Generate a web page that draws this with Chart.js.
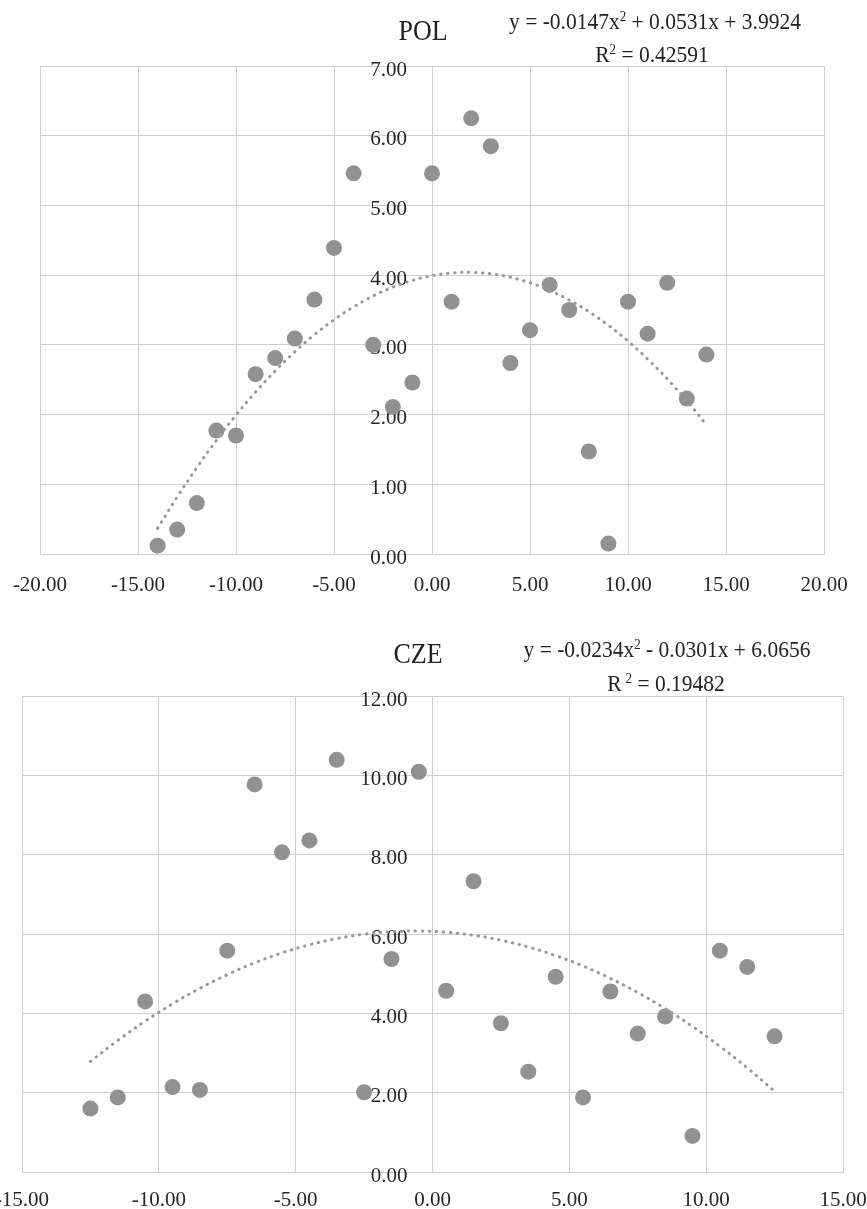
<!DOCTYPE html>
<html lang="en">
<head>
<meta charset="UTF-8">
<title>POL / CZE scatter</title>
<script src="https://cdn.jsdelivr.net/npm/chart.js"></script>
<style>
    html, body { margin: 0; padding: 0; background: #fff; overflow: hidden; }
    body { width: 867px; height: 1209px; position: relative; font-family: "Liberation Serif", "Times New Roman", serif; color: #222; }
    .box { position: absolute; }
    .lbl { position: absolute; transform: translate(-50%, -50%) scaleY(1.1); white-space: nowrap; line-height: 1; }
    .title { font-size: 26px; }
    .eq { font-size: 21.5px; }
    .eq sup { font-size: 13px; vertical-align: 7px; line-height: 0; }
</style>
</head>
<body>
    <div class="box" style="left:0; top:0; width:867px; height:610px;"><canvas id="polChart"></canvas></div>
    <div class="box" style="left:-20px; top:610px; width:907px; height:599px;"><canvas id="czeChart"></canvas></div>

    <div class="lbl title" style="left:423px; top:31px;">POL</div>
    <div class="lbl eq" style="left:655px; top:22px;">y = -0.0147x<sup>2</sup> + 0.0531x + 3.9924</div>
    <div class="lbl eq" style="left:652px; top:55px;">R<sup>2</sup> = 0.42591</div>

    <div class="lbl title" style="left:418px; top:654px;">CZE</div>
    <div class="lbl eq" style="left:667px; top:650px;">y = -0.0234x<sup>2</sup> - 0.0301x + 6.0656</div>
    <div class="lbl eq" style="left:666px; top:684px;">R<sup style="margin-left:4px">2</sup> = 0.19482</div>

<script>
// POL series
const polX = [-14, -13, -12, -11, -10, -9, -8, -7, -6, -5, -4, -3, -2, -1, 0,
              1, 2, 3, 4, 5, 6, 7, 8, 9, 10, 11, 12, 13, 14];
const polY = [0.12, 0.35, 0.73, 1.77, 1.70, 2.58, 2.81, 3.09, 3.65, 4.39, 5.46, 3.00, 2.11, 2.46, 5.46,
              3.62, 6.25, 5.85, 2.74, 3.21, 3.86, 3.50, 1.47, 0.15, 3.62, 3.16, 3.89, 2.23, 2.86];
const polTrend = [-0.0147, 0.0531, 3.9924]; // a, b, c from the shown equation

// CZE series
const czeX = [-12.5, -11.5, -10.5, -9.5, -8.5, -7.5, -6.5, -5.5, -4.5, -3.5, -2.5, -1.5, -0.5,
              0.5, 1.5, 2.5, 3.5, 4.5, 5.5, 6.5, 7.5, 8.5, 9.5, 10.5, 11.5, 12.5];
const czeY = [1.60, 1.88, 4.30, 2.14, 2.07, 5.58, 9.77, 8.06, 8.36, 10.39, 2.01, 5.37, 10.09,
              4.57, 7.33, 3.75, 2.53, 4.92, 1.88, 4.55, 3.49, 3.92, 0.91, 5.58, 5.17, 3.42];
const czeTrend = [-0.0234, -0.0301, 6.0656];

const polXTicks = [-20, 20, 5];
const polYTicks = [0, 7, 1];
const czeXTicks = [-15, 15, 5];
const czeYTicks = [0, 12, 2];

const gridColor = '#d0d0d0';
const pointColor = '#919191';
const tickFont = { family: 'Liberation Serif', size: 21 };
const labelGap = 25; // px between y labels and the x=0 line

function makeChart(id, xs, ys, coef, xt, yt, pad, plotW, axisH, xPad) {
    const pts = xs.map((x, i) => ({ x: x, y: ys[i] }));
    const trend = xs.map(x => ({ x: x, y: coef[0] * x * x + coef[1] * x + coef[2] }));
    const yAxisAt = -labelGap * (xt[1] - xt[0]) / plotW;
    return new Chart(document.getElementById(id), {
        type: 'scatter',
        data: {
            datasets: [
                {
                    data: trend,
                    showLine: true,
                    pointRadius: 0,
                    borderColor: '#999',
                    borderWidth: 3,
                    borderDash: [0.5, 6.5],
                    borderCapStyle: 'round',
                    tension: 0.4
                },
                {
                    data: pts,
                    pointRadius: 8,
                    pointBackgroundColor: pointColor,
                    pointBorderWidth: 0
                }
            ]
        },
        options: {
            responsive: true,
            maintainAspectRatio: false,
            animation: false,
            layout: { padding: pad },
            plugins: { legend: { display: false }, tooltip: { enabled: false } },
            scales: {
                x: {
                    type: 'linear',
                    position: 'bottom',
                    min: xt[0], max: xt[1],
                    afterFit: s => { s.height = axisH; s.paddingLeft = 0; s.paddingRight = 0; },
                    ticks: { stepSize: xt[2], color: '#262626', font: tickFont, padding: xPad, maxRotation: 0,
                             callback: v => v.toFixed(2) },
                    grid: { color: gridColor, drawTicks: false },
                    border: { color: gridColor }
                },
                y: {
                    type: 'linear',
                    position: { x: yAxisAt },
                    min: yt[0], max: yt[1],
                    ticks: { stepSize: yt[2], color: '#262626', font: tickFont, labelOffset: 4,
                             callback: v => v.toFixed(2) },
                    grid: { color: gridColor, drawTicks: false },
                    border: { display: false }
                }
            }
        }
    });
}

makeChart('polChart', polX, polY, polTrend, polXTicks, polYTicks,
          { left: 40, right: 43, top: 66, bottom: 0 }, 784, 56, 19);
makeChart('czeChart', czeX, czeY, czeTrend, czeXTicks, czeYTicks,
          { left: 42, right: 44, top: 86, bottom: 0 }, 821, 37, 16);
</script>
</body>
</html>
